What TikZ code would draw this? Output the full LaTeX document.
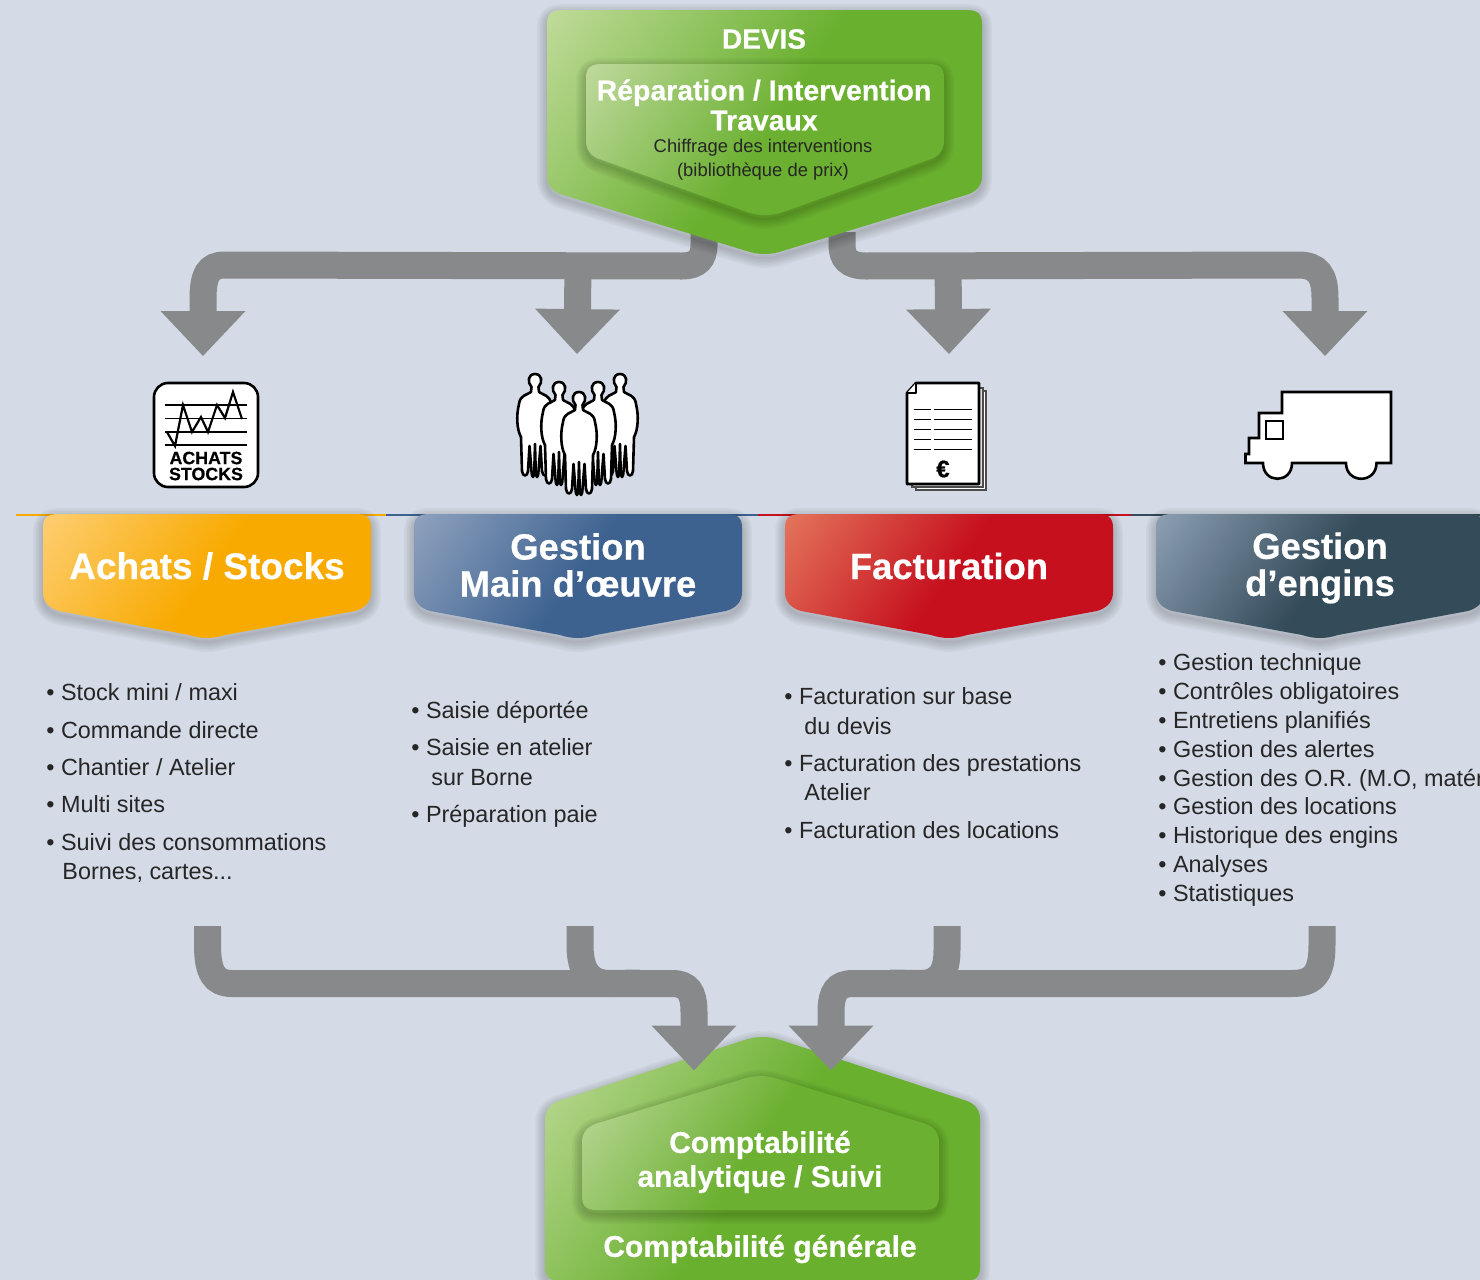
\documentclass[tikz,border=0pt]{standalone}
\usepackage{fontspec}
\setmainfont{Liberation Sans}
\newfontfamily\heavy{Liberation Sans}[BoldFeatures={FakeBold=0.5}]
\usetikzlibrary{arrows.meta,calc}
\definecolor{bgc}{HTML}{D4DAE6}
\definecolor{flowc}{HTML}{88898B}
\definecolor{gA}{HTML}{D2E4B0}\definecolor{gB}{HTML}{69B02F}
\definecolor{hA}{HTML}{D0E2B4}\definecolor{hB}{HTML}{6BB030}
\definecolor{oA}{HTML}{FFD58A}\definecolor{oB}{HTML}{F8AA00}
\definecolor{bA}{HTML}{A0AFC8}\definecolor{bB}{HTML}{3D6290}
\definecolor{rA}{HTML}{EA8A68}\definecolor{rB}{HTML}{C6101E}
\definecolor{sA}{HTML}{9FB1C6}\definecolor{sB}{HTML}{344B5A}
\newcommand{\mkshade}[3]{\pgfdeclarehorizontalshading{#1}{100bp}{color(0bp)=(#2); color(8bp)=(#2); color(50bp)=(#3); color(100bp)=(#3)}}
\mkshade{shG}{gA}{gB}\mkshade{shH}{hA}{hB}\mkshade{shO}{oA}{oB}\mkshade{shB}{bA}{bB}\mkshade{shR}{rA}{rB}\mkshade{shS}{sA}{sB}
\tikzset{
 x=0.5pt,y=-0.5pt,
 flow/.style={draw=flowc,line width=13.5pt,-{Triangle[length=22.5pt,width=41pt]}},
 flowplain/.style={draw=flowc,line width=13.5pt},
 body/.style={anchor=base west,font=\fontsize{11.7}{14}\selectfont,text=black!85,inner sep=0pt,align=left},
 title/.style={font=\heavy\bfseries\fontsize{18.2}{18.5}\selectfont,text=white,align=center,inner sep=0pt},
 ico/.style={draw=black,line width=1.3pt,fill=white,line join=round},
 rulel/.style={draw=black,line width=0.6pt},
 tipn/.style={inner sep=0pt,minimum size=0pt},
}
\newcommand{\softshadow}[1]{%
 \foreach \w in {10,8.5,7,5.5,4,2.5,1}{\draw[line width=\w pt,draw=black,opacity=.028,line join=round,yshift=-2pt] #1;}}
\newcommand{\penta}[5]{(#1+16,#3) -- (#2-16,#3) .. controls (#2-4,#3) and (#2,#3+4) .. (#2,#3+14) -- (#2,#4-14) .. controls (#2,#4-4) and (#2-6,#4+2) .. (#2-16,#4+5) -- ({(#1+#2)/2+18},#5-5) .. controls ({(#1+#2)/2+6},#5-1) and ({(#1+#2)/2-6},#5-1) .. ({(#1+#2)/2-18},#5-5) -- (#1+16,#4+5) .. controls (#1+6,#4+2) and (#1,#4-4) .. (#1,#4-14) -- (#1,#3+14) .. controls (#1,#3+4) and (#1+4,#3) .. (#1+16,#3) -- cycle}
\newcommand{\house}[5]{(#1+16,#3) -- (#2-16,#3) .. controls (#2-4,#3) and (#2,#3-4) .. (#2,#3-14) -- (#2,#4+14) .. controls (#2,#4+4) and (#2-6,#4-2) .. (#2-16,#4-5) -- ({(#1+#2)/2+18},#5+5) .. controls ({(#1+#2)/2+6},#5+1) and ({(#1+#2)/2-6},#5+1) .. ({(#1+#2)/2-18},#5+5) -- (#1+16,#4-5) .. controls (#1+6,#4-2) and (#1,#4+4) .. (#1,#4+14) -- (#1,#3-14) .. controls (#1,#3-4) and (#1+4,#3) .. (#1+16,#3) -- cycle}
\newcommand{\pentabox}[6]{\softshadow{\penta{#1}{#2}{#3}{#4}{#5}}\shade[shading=#6,shading angle=-35] \penta{#1}{#2}{#3}{#4}{#5};}
\newcommand{\housebox}[6]{\softshadow{\house{#1}{#2}{#3}{#4}{#5}}\shade[shading=#6,shading angle=-35] \house{#1}{#2}{#3}{#4}{#5};}
\newcommand{\person}[2]{%
 \begin{scope}[shift={(#1,#2)}]
 \draw[ico] (-3.5,13) .. controls (-8,8) and (-7,0) .. (0,0) .. controls (7,0) and (8,8) .. (3.5,13) -- (4,18) .. controls (8,21) and (15,21) .. (16,30) .. controls (19,42) and (18,56) .. (14,63) -- (13,97) .. controls (12.5,103) and (7.5,103) .. (7,97) -- (5.5,72) -- (3.5,97) .. controls (3,105) and (1,105) .. (0.7,97) -- (0,70) -- (-0.7,97) .. controls (-1,105) and (-3,105) .. (-3.5,97) -- (-5.5,72) -- (-7,97) .. controls (-7.5,103) and (-12.5,103) .. (-13,97) -- (-14,63) .. controls (-18,56) and (-19,42) .. (-16,30) .. controls (-15,21) and (-8,21) .. (-4,18) -- cycle;
 \end{scope}}
\begin{document}
\begin{tikzpicture}
\useasboundingbox (0,0) rectangle (1480,1280);
\clip (0,0) rectangle (1480,1280);
\fill[bgc] (0,0) rectangle (1480,1280);

% thin rule
\draw[oB,line width=1pt] (16,514.5) -- (386,514.5);
\draw[bB,line width=1pt] (386,514.5) -- (758,514.5);
\draw[rB,line width=1pt] (758,514.5) -- (1131,514.5);
\draw[sB,line width=1pt] (1131,514.5) -- (1480,514.5);

% flows from the top box
\coordinate (tl) at (704,232); \coordinate (tr) at (842,232);
\coordinate (jm) at (578,265); \coordinate (jf) at (948,265);
\node[tipn] (h1) at (203,356.5) {};
\node[tipn] (h2) at (577,354.5) {};
\node[tipn] (h3) at (949,354.5) {};
\node[tipn] (h4) at (1325,356.5) {};
\draw[flow] (tl) -- (704,245) .. controls (704,258) and (698,266) .. (682,266) -- (225,265) .. controls (208,265) and (203,275) .. (203,300) -- (h1);
\draw[flow] (jm) -- (h2);
\draw[flow] (tr) -- (842,245) .. controls (842,258) and (848,266) .. (866,266) -- (1298,265) .. controls (1318,265) and (1325,275) .. (1325,298) -- (h4);
\draw[flow] (jf) -- (h3);

% top box
\pentabox{547}{982}{10}{190}{256}{shG}
\pentabox{586}{944}{64}{155}{217}{shH}
\node[title,font=\heavy\bfseries\fontsize{14}{16}\selectfont] (devis) at (764,39) {DEVIS};
\node[title,font=\heavy\bfseries\fontsize{14.2}{15}\selectfont] (rep) at (764,105) {Réparation / Intervention\\Travaux};
\node[align=center,inner sep=0pt,font=\fontsize{9.2}{11.8}\selectfont,text=black!85] (chif) at (763,160) {Chiffrage des interventions\\(bibliothèque de prix)};

% category boxes
\pentabox{43}{371}{514}{606}{640}{shO}
\pentabox{414}{742}{514}{606}{640}{shB}
\pentabox{785}{1113}{514}{606}{640}{shR}
\pentabox{1156}{1484}{514}{606}{640}{shS}
\node[title,font=\heavy\bfseries\fontsize{18.5}{18.5}\selectfont] (a) at (207,566) {Achats / Stocks};
\node[title] (b) at (578,565) {Gestion\\Main d’œuvre};
\node[title] (c) at (949,566) {Facturation};
\node[title] (d) at (1320,568) {Gestion\\d’engins};

% lists
\node[body] (l1) at (46,700) {• Stock mini / maxi};
\node[body] (l2) at (46,738) {• Commande directe};
\node[body] (l3) at (46,775) {• Chantier / Atelier};
\node[body] (l4) at (46,812) {• Multi sites};
\node[body] (l5) at (46,850) {• Suivi des consommations};
\node[body] (l6) at (62,879) {Bornes, cartes...};
\node[body] (m1) at (411,718) {• Saisie déportée};
\node[body] (m2) at (411,755) {• Saisie en atelier};
\node[body] (m3) at (431,785) {sur Borne};
\node[body] (m4) at (411,822) {• Préparation paie};
\node[body] (n1) at (784,704) {• Facturation sur base};
\node[body] (n2) at (804,734) {du devis};
\node[body] (n3) at (784,771) {• Facturation des prestations};
\node[body] (n4) at (804,800) {Atelier};
\node[body] (n5) at (784,838) {• Facturation des locations};
\node[body] (p1) at (1158,670) {• Gestion technique};
\node[body] (p2) at (1158,699) {• Contrôles obligatoires};
\node[body] (p3) at (1158,728) {• Entretiens planifiés};
\node[body] (p4) at (1158,757) {• Gestion des alertes};
\node[body] (p5) at (1158,786) {• Gestion des O.R. (M.O, matér};
\node[body] (p6) at (1158,814) {• Gestion des locations};
\node[body] (p7) at (1158,843) {• Historique des engins};
\node[body] (p8) at (1158,872) {• Analyses};
\node[body] (p9) at (1158,901) {• Statistiques};

% bottom box
\housebox{545}{980}{1281}{1105}{1035}{shG}
\housebox{582}{939}{1210}{1128}{1074}{shH}
\node[title,font=\heavy\bfseries\fontsize{15}{17}\selectfont] (cpt) at (760,1162) {Comptabilité\\analytique / Suivi};
\node[title,font=\heavy\bfseries\fontsize{15}{16}\selectfont] (gen) at (760,1249) {Comptabilité générale};

% flows to the bottom box
\coordinate (b1) at (207.5,926); \coordinate (b2) at (580,926); \coordinate (b3) at (947,926); \coordinate (b4) at (1322,926);
\coordinate (jb) at (640,983); \coordinate (jc) at (890,983);
\node[tipn] (t1) at (694,1071) {};
\node[tipn] (t2) at (831,1071) {};
\draw[flow] (b1) -- (207.5,945) .. controls (207.5,972) and (214,983.5) .. (232,983.5) -- (672,983.5) .. controls (688,983.5) and (694,992) .. (694,1012) -- (t1);
\draw[flowplain] (b2) -- (580,945) .. controls (580,972) and (590,983.5) .. (610,983.5) -- (jb);
\draw[flow] (b4) -- (1322,945) .. controls (1322,972) and (1315,983.5) .. (1292,983.5) -- (853,983.5) .. controls (837,983.5) and (831,992) .. (831,1012) -- (t2);
\draw[flowplain] (b3) -- (947,950) .. controls (947,972) and (940,983.5) .. (920,983.5) -- (jc);

% icon 1
\draw[ico,rounded corners=7pt] (154,383) rectangle (258,487);
\foreach \y in {405,418.5,432,445}{\draw[rulel] (165,\y) -- (247,\y);}
\draw[black,line width=1.1pt,line join=miter] (167,432) -- (175,446) -- (183,405) -- (192,432) -- (201,417) -- (208,432) -- (217,405) -- (225,418) -- (233,392) -- (242,419);
\node[font=\heavy\bfseries\fontsize{8.9}{8}\selectfont,align=center,inner sep=0pt] (ic1) at (206,466) {ACHATS\\STOCKS};

% icon 2 people
\person{535}{374}
\person{620}{374}
\person{559}{382}
\person{598}{382}
\person{579}{392}
\node[inner sep=0pt] (ic2) at (578,435) {};

% icon 3 doc
\draw[draw=black!70,fill=white,line width=0.6pt] (916,391) rectangle (986,490);
\draw[draw=black!70,fill=black!12,line width=0.6pt] (912,388) rectangle (983,487);
\draw[ico] (916,383) -- (979,383) -- (979,484) -- (907,484) -- (907,393) -- cycle;
\draw[ico,fill=white,line width=1.1pt] (907,393) -- (916,393) -- (916,383);
\foreach \y in {409,419,429,439,449}{\draw[black,line width=0.45pt] (914,\y) -- (931,\y) (934,\y) -- (972,\y);}
\node[font=\heavy\bfseries\fontsize{12}{12}\selectfont,inner sep=0pt] (ic3) at (943,469) {€};

% icon 4 truck
\draw[ico,line join=miter] (1282,392) -- (1282,413) -- (1259,413) -- (1259,438) -- (1249,438) -- (1249,454) -- (1245.5,454) -- (1245.5,463) -- (1263,463) .. controls (1263,484) and (1292,484) .. (1292,463) -- (1346,463) .. controls (1346,484) and (1376.5,484) .. (1376.5,463) -- (1391,463) -- (1391,392) -- cycle;
\draw[ico,fill=none,line join=miter] (1266,421) rectangle (1283,439);
\node[inner sep=0pt] (ic4) at (1318,435) {};
\end{tikzpicture}
\end{document}
